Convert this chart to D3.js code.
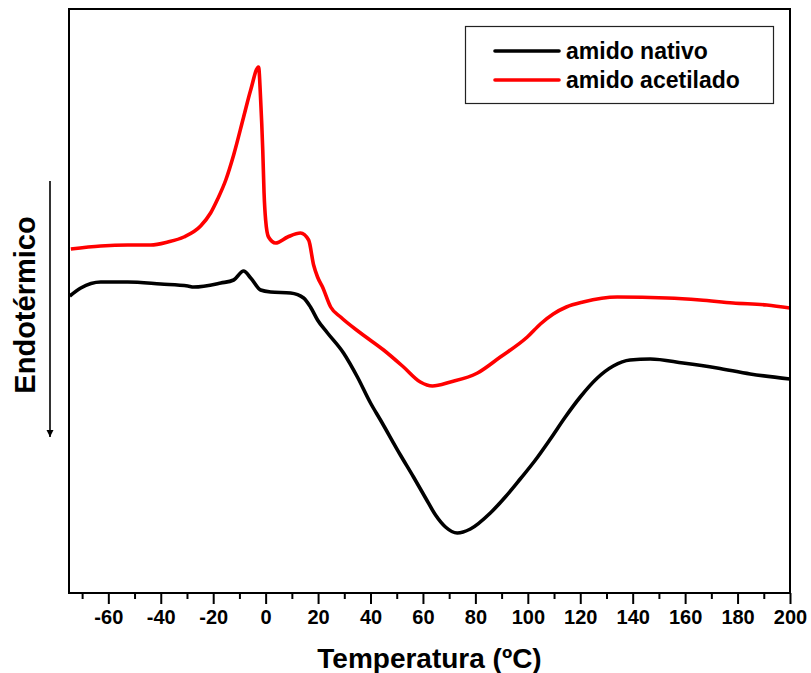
<!DOCTYPE html>
<html lang="pt">
<head>
<meta charset="utf-8">
<title>DSC amido</title>
<script src="https://cdn.jsdelivr.net/npm/d3@7"></script>
<style>
  body { margin: 0; background: #fff; }
  svg text { font-family: "Liberation Sans", Arial, sans-serif; fill: #000; }
</style>
</head>
<body>
<div id="chart"></div>
<script>
// temperaturas (ºC) e fluxo de calor (unidades arbitrárias, endotérmico para baixo)
const nativoT = [-74.7, -70.5, -62.9, -52.6, -40, -29.7, -27.4, -17.1, -12.2, -8.4, -5.7, -1.9, 1.9, 9.5, 14.5, 17.1, 19.8, 23.6, 29.7, 35, 40, 43.8, 51.4, 56.4, 61, 64.8, 68.6, 73.1, 78.1, 85.7, 91.4, 97.1, 102.9, 108.6, 114.3, 120, 126.5, 132.6, 139, 146.7, 159.2, 172.2, 184.8, 200];
const nativoV = [297, 305, 311, 311, 309, 307, 306, 310, 313, 322, 315, 303, 301, 300, 295, 286, 273, 260, 240, 216, 190, 173, 138, 116, 95, 78, 66, 60, 64, 80, 96, 114, 133, 154, 176, 196, 215, 227, 233, 234, 230, 225, 219, 214];

const acetT = [-74.3, -62.9, -52.6, -43.8, -37.3, -31.2, -24.8, -21, -18.3, -15.2, -12.2, -8.4, -5.7, -2.7, -1.9, -1.1, -0.6, 0, 1.1, 3.8, 8.4, 13.3, 16.4, 18.3, 19.8, 21.7, 24.8, 28.6, 36.2, 45, 52.6, 59, 63.6, 70.5, 80.8, 89.5, 99.8, 104.8, 109.7, 114.7, 121.1, 134.1, 153.1, 165.7, 178.3, 191.2, 200];
const acetV = [344, 347, 348, 348, 351, 356, 367, 380, 394, 413, 438, 476, 503, 526, 493, 443, 400, 373, 356, 350, 356, 360, 353, 328, 316, 306, 286, 276, 260, 243, 226, 211, 207, 211, 220, 236, 256, 269, 279, 286, 291, 296, 295, 293, 290, 288, 285];

const seriesNames = ["amido nativo", "amido acetilado"];
const seriesColors = ["#000000", "#ff0000"];
const xTicks = [-60, -40, -20, 0, 20, 40, 60, 80, 100, 120, 140, 160, 180, 200];

const width = 811, height = 673;
const margin = {top: 9, right: 21, bottom: 80, left: 69};

const x = d3.scaleLinear().domain([-75, 200]).range([margin.left, width - margin.right]);
const y = d3.scaleLinear().domain([0, 584]).range([height - margin.bottom, margin.top]);

const svg = d3.select("#chart").append("svg")
    .attr("width", width)
    .attr("height", height);

const series = [
  {name: seriesNames[0], color: seriesColors[0], pts: nativoT.map((t, i) => [t, nativoV[i]])},
  {name: seriesNames[1], color: seriesColors[1], pts: acetT.map((t, i) => [t, acetV[i]])}
];

const line = d3.line()
    .x(d => x(d[0]))
    .y(d => y(d[1]))
    .curve(d3.curveMonotoneX);

svg.append("defs").append("clipPath").attr("id", "clip")
  .append("rect")
    .attr("x", margin.left).attr("y", margin.top)
    .attr("width", width - margin.left - margin.right)
    .attr("height", height - margin.top - margin.bottom);

svg.append("g").attr("clip-path", "url(#clip)")
  .selectAll("path")
  .data(series)
  .join("path")
    .attr("fill", "none")
    .attr("stroke", d => d.color)
    .attr("stroke-width", 3.6)
    .attr("stroke-linejoin", "round")
    .attr("d", d => line(d.pts));

// eixo x (minor + major)
const minorTicks = d3.range(-70, 201, 10).filter(v => !xTicks.includes(v));
svg.append("g")
    .attr("transform", `translate(0,${height - margin.bottom})`)
    .call(d3.axisBottom(x).tickValues(minorTicks).tickSize(6).tickFormat(""))
    .call(g => g.select(".domain").remove());
const xMajor = svg.append("g")
    .attr("transform", `translate(0,${height - margin.bottom})`)
    .call(d3.axisBottom(x).tickValues(xTicks).tickSize(11).tickPadding(6).tickFormat(d3.format("d")))
    .call(g => g.select(".domain").remove());
svg.selectAll(".tick line").attr("stroke", "#000").attr("stroke-width", 2);
xMajor.selectAll(".tick text")
    .attr("font-size", 20)
    .attr("font-weight", "bold")
    .attr("font-family", "Liberation Sans, Arial, sans-serif")
    .text(d => d < 0 ? "-" + Math.abs(d) : d);

// moldura
svg.append("rect")
    .attr("x", margin.left).attr("y", margin.top)
    .attr("width", width - margin.left - margin.right)
    .attr("height", height - margin.top - margin.bottom)
    .attr("fill", "none")
    .attr("stroke", "#000")
    .attr("stroke-width", 2);

// títulos
svg.append("text")
    .attr("x", (margin.left + width - margin.right) / 2)
    .attr("y", 668)
    .attr("text-anchor", "middle")
    .attr("font-size", 28)
    .attr("font-weight", "bold")
    .text("Temperatura (ºC)");

svg.append("text")
    .attr("transform", "translate(35,305) rotate(-90)")
    .attr("text-anchor", "middle")
    .attr("font-size", 29)
    .attr("font-weight", "bold")
    .text("Endotérmico");

// seta endotérmico
svg.append("defs").append("marker")
    .attr("id", "arrow")
    .attr("viewBox", "0 0 10 10")
    .attr("refX", 10).attr("refY", 5)
    .attr("markerWidth", 7).attr("markerHeight", 10)
    .attr("markerUnits", "userSpaceOnUse")
    .attr("orient", "auto")
  .append("path")
    .attr("d", "M0,0 L10,5 L0,10 Z")
    .attr("fill", "#000");
svg.append("line")
    .attr("x1", 50).attr("x2", 50)
    .attr("y1", 181).attr("y2", 437)
    .attr("stroke", "#000")
    .attr("stroke-width", 1.6)
    .attr("marker-end", "url(#arrow)");

// legenda
const legend = svg.append("g");
legend.append("rect")
    .attr("x", 465.5).attr("y", 26.5)
    .attr("width", 308).attr("height", 77)
    .attr("fill", "#fff")
    .attr("stroke", "#222")
    .attr("stroke-width", 1.2);
const li = legend.selectAll("g.item")
  .data(series)
  .join("g")
    .attr("class", "item")
    .attr("transform", (d, i) => `translate(0,${51 + i * 29})`);
li.append("line")
    .attr("x1", 495).attr("x2", 559)
    .attr("stroke", d => d.color)
    .attr("stroke-width", 3.6)
    .attr("stroke-linecap", "round");
li.append("text")
    .attr("x", 566)
    .attr("y", 8)
    .attr("font-size", 23)
    .attr("font-weight", "bold")
    .text(d => d.name);
</script>
</body>
</html>
